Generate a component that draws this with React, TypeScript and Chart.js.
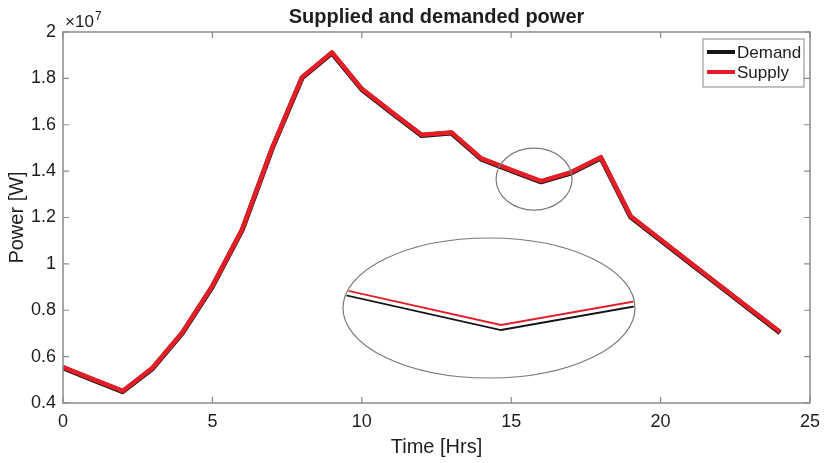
import React, { useEffect, useRef } from "react";
import { Chart, registerables } from "chart.js";

Chart.register(...registerables);

// ---- Data (power in W) ----
const hours = [0, 1, 2, 3, 4, 5, 6, 7, 8, 9, 10, 11, 12, 13, 14, 15, 16, 17, 18, 19, 20, 21, 22, 23, 24];
const supply = [
  5.55e6, 5.03e6, 4.52e6, 5.52e6, 7.05e6, 9.05e6, 11.5e6, 15.0e6, 18.05e6, 19.12e6,
  17.55e6, 16.55e6, 15.57e6, 15.67e6, 14.55e6, 14.05e6, 13.57e6, 13.95e6, 14.6e6, 12.05e6,
  11.05e6, 10.05e6, 9.05e6, 8.05e6, 7.06e6,
];
const demand = [
  5.52e6, 5.0e6, 4.49e6, 5.49e6, 7.02e6, 9.02e6, 11.47e6, 14.97e6, 18.02e6, 19.09e6,
  17.52e6, 16.52e6, 15.54e6, 15.64e6, 14.52e6, 14.02e6, 13.54e6, 13.92e6, 14.57e6, 12.02e6,
  11.02e6, 10.02e6, 9.02e6, 8.02e6, 7.03e6,
];
const xTicks = [0, 5, 10, 15, 20, 25];
const yTicks = [4e6, 6e6, 8e6, 10e6, 12e6, 14e6, 16e6, 18e6, 20e6];
const seriesLabels = ["Demand", "Supply"];
const seriesColors = ["#151515", "#e41e26"];
const titleText = "Supplied and demanded power";
const xTitle = "Time [Hrs]";
const yTitle = "Power [W]";
const ZOOM_INDEX = 16;

const FONT = "'Liberation Sans', Arial, Helvetica, sans-serif";
const TEXT = "#1e1e1e";
const AXIS = "#8a8a8a";

const decorPlugin = {
  id: "decor",
  afterDatasetsDraw(chart: any) {
    const ctx = chart.ctx as CanvasRenderingContext2D;
    const a = chart.chartArea;
    const xs = chart.scales.x;
    const ys = chart.scales.y;
    ctx.save();

    // frame
    ctx.strokeStyle = AXIS;
    ctx.lineWidth = 1.5;
    ctx.strokeRect(a.left, a.top, a.right - a.left, a.bottom - a.top);
    // inward ticks
    ctx.lineWidth = 1.2;
    ctx.beginPath();
    xTicks.forEach((t) => {
      const px = xs.getPixelForValue(t);
      ctx.moveTo(px, a.bottom);
      ctx.lineTo(px, a.bottom - 6);
      ctx.moveTo(px, a.top);
      ctx.lineTo(px, a.top + 6);
    });
    yTicks.forEach((t) => {
      const py = ys.getPixelForValue(t);
      ctx.moveTo(a.left, py);
      ctx.lineTo(a.left + 6, py);
      ctx.moveTo(a.right, py);
      ctx.lineTo(a.right - 6, py);
    });
    ctx.stroke();

    // small ellipse around focus
    const fx = xs.getPixelForValue(hours[ZOOM_INDEX]);
    const fy = ys.getPixelForValue(supply[ZOOM_INDEX]);
    ctx.strokeStyle = "#7a7a7a";
    ctx.lineWidth = 1.2;
    ctx.beginPath();
    ctx.ellipse(fx - 7, fy - 2, 38, 31, 0, 0, Math.PI * 2);
    ctx.stroke();

    // big inset ellipse
    const ecx = 489, ecy = 308, erx = 146, ery = 70;
    const vx = ecx + 12, vy = ecy + 17;
    const MX = 12, MY = 7.2;
    ctx.beginPath();
    ctx.ellipse(ecx, ecy, erx, ery, 0, 0, Math.PI * 2);
    ctx.stroke();
    ctx.save();
    ctx.beginPath();
    ctx.ellipse(ecx, ecy, erx - 1, ery - 1, 0, 0, Math.PI * 2);
    ctx.clip();
    const drawInset = (vals: number[], color: string) => {
      ctx.strokeStyle = color;
      ctx.lineWidth = 1.8;
      ctx.lineJoin = "miter";
      ctx.beginPath();
      for (let i = ZOOM_INDEX - 2; i <= ZOOM_INDEX + 2; i++) {
        const px = vx + (xs.getPixelForValue(hours[i]) - fx) * MX;
        const py = vy + (ys.getPixelForValue(vals[i]) - fy) * MY;
        if (i === ZOOM_INDEX - 2) ctx.moveTo(px, py);
        else ctx.lineTo(px, py);
      }
      ctx.stroke();
    };
    drawInset(demand, seriesColors[0]);
    drawInset(supply, seriesColors[1]);
    ctx.restore();

    // title
    ctx.fillStyle = TEXT;
    ctx.font = `bold 20px ${FONT}`;
    ctx.textAlign = "center";
    ctx.textBaseline = "alphabetic";
    ctx.fillText(titleText, (a.left + a.right) / 2, 23);

    // exponent
    ctx.textAlign = "left";
    ctx.font = `17px ${FONT}`;
    ctx.fillText("\u00d710", a.left + 2, 27);
    ctx.font = `12px ${FONT}`;
    ctx.fillText("7", a.left + 32, 20);

    // axis titles
    ctx.font = `20px ${FONT}`;
    ctx.textAlign = "center";
    ctx.textBaseline = "middle";
    ctx.fillText(xTitle, (a.left + a.right) / 2, 447);
    ctx.save();
    ctx.translate(17, (a.top + a.bottom) / 2);
    ctx.rotate(-Math.PI / 2);
    ctx.fillText(yTitle, 0, 0);
    ctx.restore();

    // legend
    const lx = 703, ly = 39, lw = 101, lh = 48;
    ctx.fillStyle = "#fff";
    ctx.fillRect(lx, ly, lw, lh);
    ctx.strokeStyle = "#9a9a9a";
    ctx.lineWidth = 1.2;
    ctx.strokeRect(lx, ly, lw, lh);
    ctx.font = `17px ${FONT}`;
    ctx.textAlign = "left";
    ctx.textBaseline = "middle";
    seriesLabels.forEach((lab, i) => {
      const y = ly + 13 + i * 20;
      ctx.strokeStyle = seriesColors[i];
      ctx.lineWidth = 4;
      ctx.beginPath();
      ctx.moveTo(lx + 4, y);
      ctx.lineTo(lx + 32, y);
      ctx.stroke();
      ctx.fillStyle = TEXT;
      ctx.fillText(lab, lx + 34, y + 1);
    });

    ctx.restore();
  },
};

export default function App() {
  const ref = useRef<HTMLCanvasElement | null>(null);
  useEffect(() => {
    document.body.style.margin = "0";
    if (!ref.current) return;
    const chart = new Chart(ref.current, {
      type: "line",
      data: {
        datasets: [
          {
            label: seriesLabels[0],
            data: hours.map((h, i) => ({ x: h, y: demand[i] })),
            borderColor: seriesColors[0],
            backgroundColor: seriesColors[0],
            borderWidth: 5,
            pointRadius: 0,
            tension: 0,
            borderJoinStyle: "round",
            order: 1,
          },
          {
            label: seriesLabels[1],
            data: hours.map((h, i) => ({ x: h, y: supply[i] })),
            borderColor: seriesColors[1],
            backgroundColor: seriesColors[1],
            borderWidth: 4.5,
            pointRadius: 0,
            tension: 0,
            borderJoinStyle: "round",
            order: 0,
          },
        ],
      },
      options: {
        responsive: false,
        animation: false,
        devicePixelRatio: 1,
        layout: { padding: { top: 32, right: 16, left: 0, bottom: 0 } },
        plugins: {
          legend: { display: false },
          title: { display: false },
          tooltip: { enabled: false },
        },
        scales: {
          x: {
            type: "linear",
            min: 0,
            max: 25,
            afterFit: (s: any) => {
              s.height = 60;
            },
            afterBuildTicks: (s: any) => {
              s.ticks = xTicks.map((v) => ({ value: v }));
            },
            ticks: {
              font: { size: 18, family: FONT },
              color: TEXT,
              padding: 8,
              maxRotation: 0,
              callback: (v: any) => String(v),
            },
            grid: { display: false, drawTicks: false },
            border: { display: false },
          },
          y: {
            type: "linear",
            min: 4e6,
            max: 2e7,
            afterFit: (s: any) => {
              s.width = 63;
            },
            afterBuildTicks: (s: any) => {
              s.ticks = yTicks.map((v) => ({ value: v }));
            },
            ticks: {
              font: { size: 18, family: FONT },
              color: TEXT,
              padding: 7,
              callback: (v: any) => String(Number((Number(v) / 1e7).toFixed(1))),
            },
            grid: { display: false, drawTicks: false },
            border: { display: false },
          },
        },
      },
      plugins: [decorPlugin],
    } as any);
    return () => chart.destroy();
  }, []);
  return (
    <div style={{ width: 828, height: 463, background: "#fff" }}>
      <canvas ref={ref} width={828} height={463} style={{ display: "block" }} />
    </div>
  );
}
